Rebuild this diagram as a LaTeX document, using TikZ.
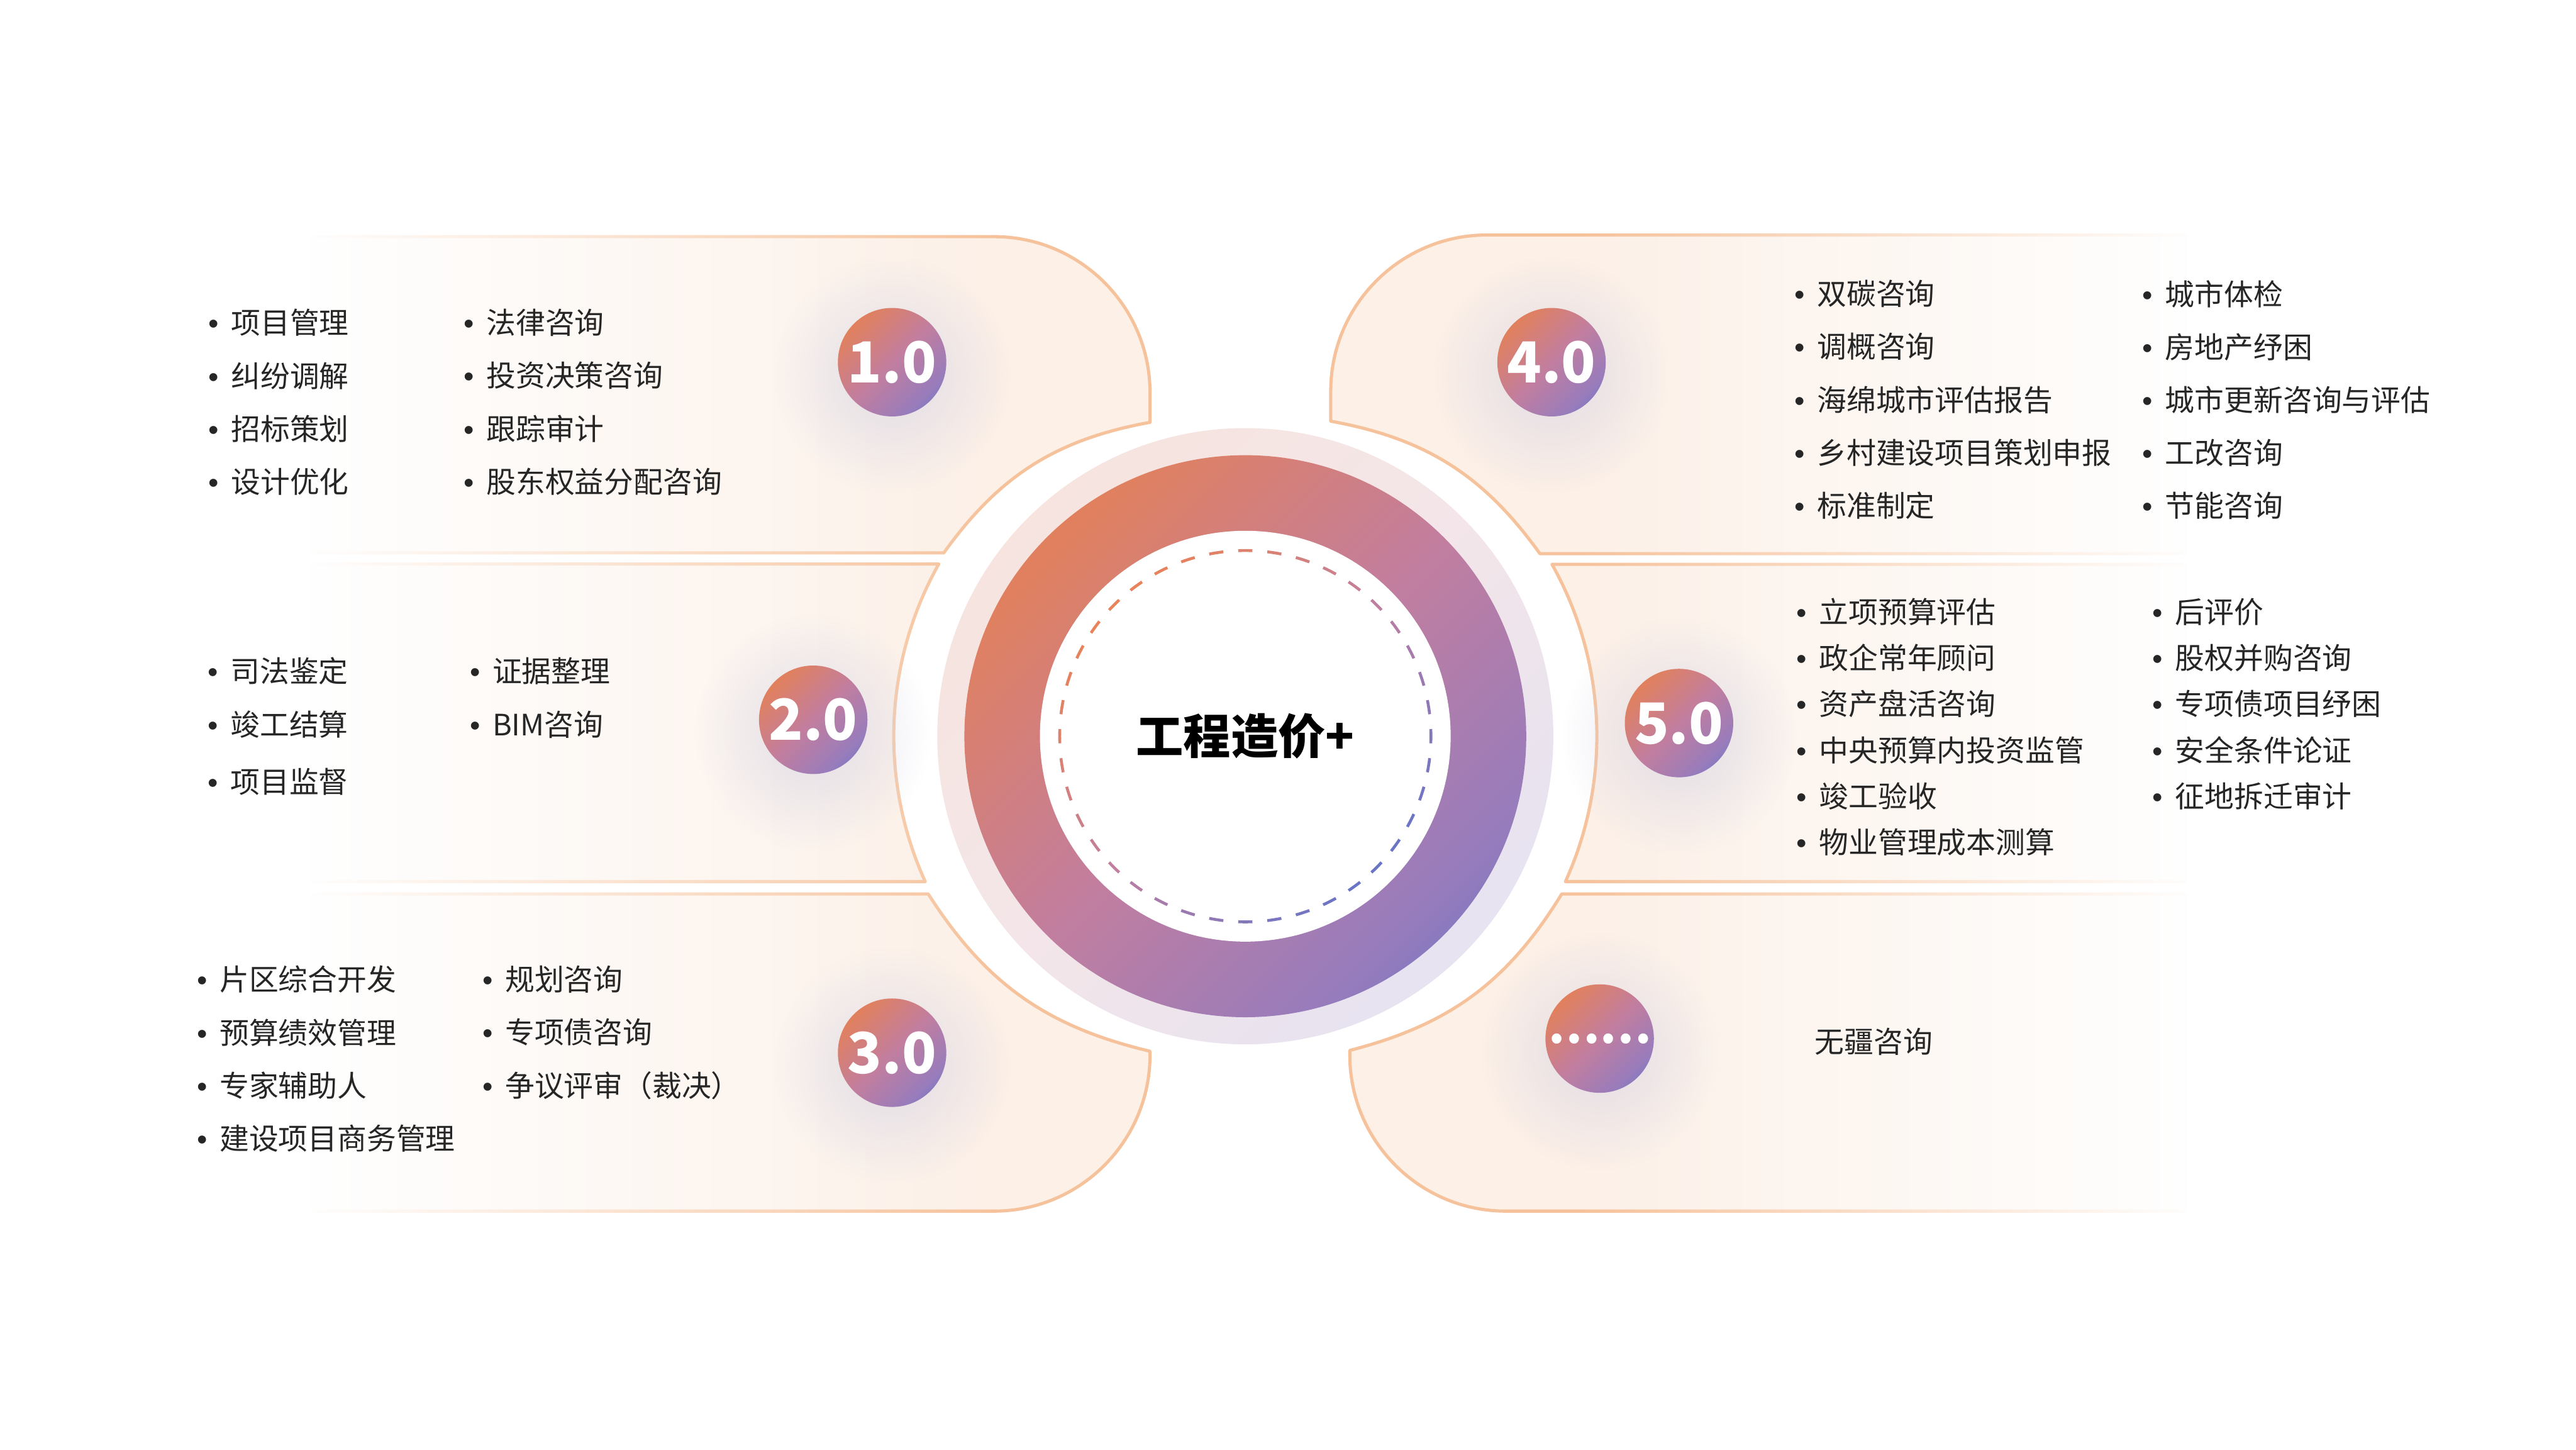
\documentclass[tikz,border=0pt]{standalone}
\usepackage{fontspec}
\setmainfont{Noto Sans CJK SC}
\newfontfamily\bulletfont{Liberation Sans}
\usetikzlibrary{calc, fadings}
\definecolor{mOrange}{HTML}{E8835A}
\definecolor{mWarm}{HTML}{E0805F}
\definecolor{mPink}{HTML}{C27E9F}
\definecolor{mViolet}{HTML}{977CBC}
\definecolor{mBlue}{HTML}{6A75C6}
\definecolor{haloA}{HTML}{F8E4DC}
\definecolor{haloM}{HTML}{F3E5E9}
\definecolor{haloB}{HTML}{E2E2F3}
\definecolor{panelFill}{HTML}{FCF0E7}
\definecolor{panelLine}{HTML}{F6C29B}
\definecolor{glow}{HTML}{CFCDE2}
\definecolor{itemText}{HTML}{262626}

\pgfdeclarehorizontalshading{ringshade}{100bp}{color(0bp)=(mOrange); color(16bp)=(mOrange); color(26bp)=(mWarm); color(50bp)=(mPink); color(72bp)=(mViolet); color(83bp)=(mBlue); color(100bp)=(mBlue)}
\pgfdeclarehorizontalshading{haloshade}{100bp}{color(0bp)=(haloA); color(16bp)=(haloA); color(50bp)=(haloM); color(84bp)=(haloB); color(100bp)=(haloB)}
\tikzfading[name=fadeW, left color=transparent!0, right color=transparent!100]
\tikzfading[name=fadeE, left color=transparent!100, right color=transparent!0]
\tikzfading[name=fadeGlow, inner color=transparent!40, outer color=transparent!100]
\newcommand{\itm}[1]{{\bulletfont •}\hspace{0.075cm}#1}

\begin{document}
\begin{tikzpicture}[
  panel/.style={fill=panelFill, draw=panelLine, line width=0.55pt, line join=round},
  badge/.style={circle, minimum size=0.66cm, inner sep=0pt, shade, shading=ringshade, shading angle=-45, text=white, font=\fontsize{9.8pt}{10pt}\selectfont\bfseries},
  item/.style={anchor=west, inner sep=0pt, text=itemText, font=\fontsize{5.1pt}{6pt}\selectfont},
]
\useasboundingbox (0,0) rectangle (15.68,8.82);
\coordinate (C) at (7.58,4.34);

% panels, left column
\draw[panel] (1.9,7.38) -- (6.05,7.38) arc[start angle=90, end angle=0, radius=0.95] -- (7.00,6.25) to[bend right=22] (5.745,5.456) -- (1.9,5.456) -- cycle;
\draw[panel] (1.9,5.388) -- ($(C)+(150.68:2.14)$) arc[start angle=150.68, end angle=204.43, radius=2.14] -- (1.9,3.455) -- cycle;
\draw[panel] (1.9,3.38) -- (5.65,3.38) to[bend right=22] (7.00,2.423) -- (7.00,2.40) arc[start angle=0, end angle=-90, radius=0.95] -- (1.9,1.45) -- cycle;
% panels, right column
\draw[panel] (13.3,7.39) -- (9.05,7.39) arc[start angle=90, end angle=180, radius=0.95] -- (8.10,6.257) to[bend left=22] (9.373,5.451) -- (13.3,5.451) -- cycle;
\draw[panel] (13.3,5.386) -- ($(C)+(29.26:2.14)$) arc[start angle=29.26, end angle=-24.43, radius=2.14] -- (13.3,3.455) -- cycle;
\draw[panel] (13.3,3.38) -- (9.506,3.38) to[bend left=22] (8.216,2.428) -- (8.216,2.40) arc[start angle=180, end angle=270, radius=0.95] -- (13.3,1.45) -- cycle;
\fill[white, path fading=fadeW] (1.85,1.38) rectangle (6.1,7.46);
\fill[white, path fading=fadeE] (9.6,1.38) rectangle (13.4,7.46);

% centre ring
\shade[shading=haloshade, shading angle=-45] (C) circle (1.875);
\shade[shading=ringshade, shading angle=-45] (C) circle (1.71);
\fill[white] (C) circle (1.25);
\foreach \i in {0,...,39} {
  \pgfmathsetmacro\a{90+9*\i}
  \pgfmathsetmacro\t{50+35.36*(cos(\a)-sin(\a))}
  \pgfmathsetmacro\tA{min(100,2*\t)}
  \pgfmathsetmacro\tB{max(0,2*\t-100)}
  \draw[line width=0.5pt, color=mBlue!\tB!mPink!\tA!mOrange] ($(C)+(\a-2.2:1.13)$) arc[start angle=\a-2.2, end angle=\a+2.2, radius=1.13];
}
\node[font=\fontsize{8.2pt}{9pt}\selectfont\bfseries, text=black] (title) at (C) {工程造价+};

% badges
\foreach \x/\y in {5.43/6.616, 4.95/4.44, 5.43/2.414, 9.444/6.616, 10.22/4.42, 9.737/2.50}
  \fill[glow, path fading=fadeGlow] (\x,\y-0.08) circle (0.72);
\node[badge] (b1) at (5.43,6.616) {1.0};
\node[badge] (b2) at (4.95,4.44) {2.0};
\node[badge] (b3) at (5.43,2.414) {3.0};
\node[badge] (b4) at (9.444,6.616) {4.0};
\node[badge] (b5) at (10.22,4.42) {5.0};
\node[badge, font=\fontsize{8pt}{8pt}\selectfont\bfseries] (b6) at (9.737,2.50) {……};

% items
\foreach \txt [count=\k] in {项目管理, 纠纷调解, 招标策划, 设计优化}
  \node[item] (pa\k) at (1.262,{7.1785-0.3225*\k}) {\itm{\txt}};
\foreach \txt [count=\k] in {法律咨询, 投资决策咨询, 跟踪审计, 股东权益分配咨询}
  \node[item] (pb\k) at (2.816,{7.1785-0.3225*\k}) {\itm{\txt}};
\foreach \txt/\y [count=\k] in {司法鉴定/4.738, 竣工结算/4.412, 项目监督/4.064}
  \node[item] (qa\k) at (1.258,\y) {\itm{\txt}};
\foreach \txt/\y [count=\k] in {证据整理/4.738, BIM咨询/4.412}
  \node[item] (qb\k) at (2.853,\y) {\itm{\txt}};
\foreach \txt [count=\k] in {片区综合开发, 预算绩效管理, 专家辅助人, 建设项目商务管理}
  \node[item] (ra\k) at (1.192,{3.182-0.3223*\k}) {\itm{\txt}};
\foreach \txt [count=\k] in {规划咨询, 专项债咨询, 争议评审（裁决）}
  \node[item] (rb\k) at (2.93,{3.182-0.3223*\k}) {\itm{\txt}};
\foreach \txt [count=\k] in {双碳咨询, 调概咨询, 海绵城市评估报告, 乡村建设项目策划申报, 标准制定}
  \node[item] (sa\k) at (10.916,{7.354-0.3223*\k}) {\itm{\txt}};
\foreach \txt [count=\k] in {城市体检, 房地产纾困, 城市更新咨询与评估, 工改咨询, 节能咨询}
  \node[item] (sb\k) at (13.035,{7.354-0.3223*\k}) {\itm{\txt}};
\foreach \txt [count=\k] in {立项预算评估, 政企常年顾问, 资产盘活咨询, 中央预算内投资监管, 竣工验收, 物业管理成本测算}
  \node[item] (ta\k) at (10.928,{5.376-0.28*\k}) {\itm{\txt}};
\foreach \txt [count=\k] in {后评价, 股权并购咨询, 专项债项目纾困, 安全条件论证, 征地拆迁审计}
  \node[item] (tb\k) at (13.096,{5.376-0.28*\k}) {\itm{\txt}};
\node[item] (u1) at (11.04,2.48) {无疆咨询};
\end{tikzpicture}
\end{document}
